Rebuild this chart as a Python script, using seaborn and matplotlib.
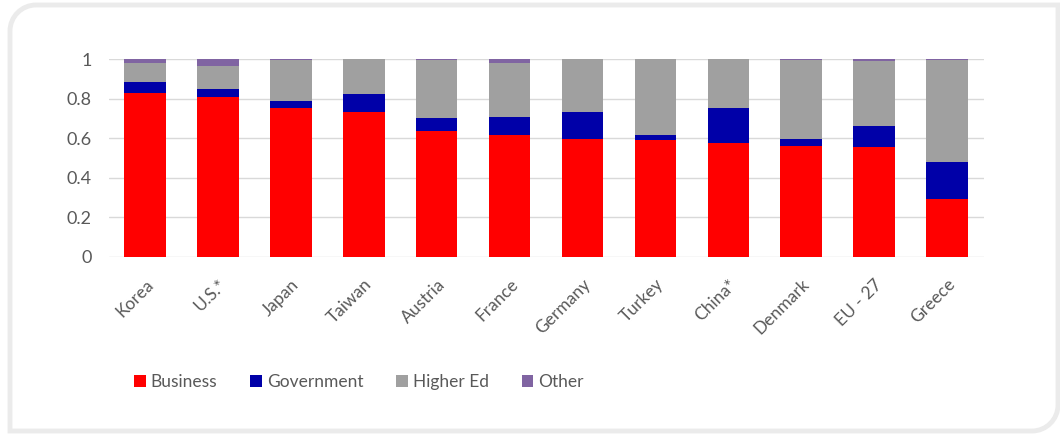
import numpy as np
import pandas as pd
import seaborn as sns
import matplotlib
matplotlib.use("Agg")
import matplotlib.pyplot as plt
from matplotlib.path import Path
from matplotlib.patches import PathPatch

# R&D performance shares by sector
countries = ["Korea", "U.S.*", "Japan", "Taiwan", "Austria", "France",
             "Germany", "Turkey", "China*", "Denmark", "EU - 27", "Greece"]
business = [0.828, 0.807, 0.752, 0.735, 0.638, 0.617, 0.596, 0.591, 0.574, 0.561, 0.557, 0.291]
government = [0.059, 0.041, 0.038, 0.089, 0.063, 0.089, 0.139, 0.026, 0.178, 0.034, 0.105, 0.190]
higher_ed = [0.093, 0.118, 0.205, 0.176, 0.297, 0.274, 0.265, 0.383, 0.248, 0.403, 0.328, 0.516]
other = [0.020, 0.034, 0.005, 0.000, 0.002, 0.020, 0.000, 0.000, 0.000, 0.002, 0.010, 0.003]

sectors = ["Business", "Government", "Higher Ed", "Other"]
colors = {"Business": "#FF0000", "Government": "#0000A8",
          "Higher Ed": "#A0A0A0", "Other": "#8064A2"}

df = pd.DataFrame({"country": countries, "Business": business,
                   "Government": government, "Higher Ed": higher_ed,
                   "Other": other})
cum = df[sectors].cumsum(axis=1)
cum["country"] = df["country"]

sns.set_theme(style="white")
plt.rcParams["font.family"] = ["Lato", "DejaVu Sans"]
text_color = "#595959"

fig = plt.figure(figsize=(10.6, 4.37), dpi=100)
ax = fig.add_axes([0.1024, 0.4126, 0.8255, 0.4517])

# stacked bars: draw cumulative totals from the top segment down
for sector in reversed(sectors):
    sns.barplot(data=cum, x="country", y=sector, color=colors[sector],
                width=0.57, saturation=1, label=sector, ax=ax, zorder=3,
                linewidth=0, edgecolor="none")

if ax.get_legend() is not None:
    ax.get_legend().remove()

ax.set_ylim(0, 1)
ax.set_yticks([0, 0.2, 0.4, 0.6, 0.8, 1.0])
ax.set_yticklabels(["0", "0.2", "0.4", "0.6", "0.8", "1"])
ax.yaxis.grid(True, color="#D9D9D9", linewidth=1, zorder=0)
ax.xaxis.grid(False)
for s in ax.spines.values():
    s.set_visible(False)
ax.set_xlabel("")
ax.set_ylabel("")
ax.tick_params(axis="y", length=0, pad=12, labelsize=13, labelcolor=text_color)
ax.tick_params(axis="x", length=0, pad=14, labelsize=12.5, labelcolor=text_color)
for lbl in ax.get_xticklabels():
    lbl.set_rotation(45)
    lbl.set_ha("right")
    lbl.set_rotation_mode("anchor")

handles, labels = ax.get_legend_handles_labels()
order = [labels.index(s) for s in sectors]
leg = fig.legend([handles[i] for i in order], [labels[i] for i in order],
                 loc="center left", bbox_to_anchor=(0.112, 0.125), ncol=4,
                 frameon=False, fontsize=12.5, handlelength=0.65,
                 handleheight=0.65, handletextpad=0.3, columnspacing=1.9)
for t in leg.get_texts():
    t.set_color(text_color)

# outer frame with rounded top-left and bottom-right corners
W, H = 1060.0, 437.0
x0, y0, x1, y1, r = 10.0, 6.0, 1058.0, 432.0, 26.0
k = 0.5523
verts = [
    (x0, y0), (x1 - r, y0),
    (x1 - r + k * r, y0), (x1, y0 + r - k * r), (x1, y0 + r),
    (x1, y1), (x0 + r, y1),
    (x0 + r - k * r, y1), (x0, y1 - r + k * r), (x0, y1 - r),
    (x0, y0),
]
codes = [Path.MOVETO, Path.LINETO,
         Path.CURVE4, Path.CURVE4, Path.CURVE4,
         Path.LINETO, Path.LINETO,
         Path.CURVE4, Path.CURVE4, Path.CURVE4,
         Path.CLOSEPOLY]
verts = [(vx / W, vy / H) for vx, vy in verts]
frame = PathPatch(Path(verts, codes), transform=fig.transFigure,
                  facecolor="none", edgecolor="#EBEBEB", linewidth=3.5,
                  zorder=0)
fig.patches.append(frame)

fig.savefig("out.png", dpi=100)
